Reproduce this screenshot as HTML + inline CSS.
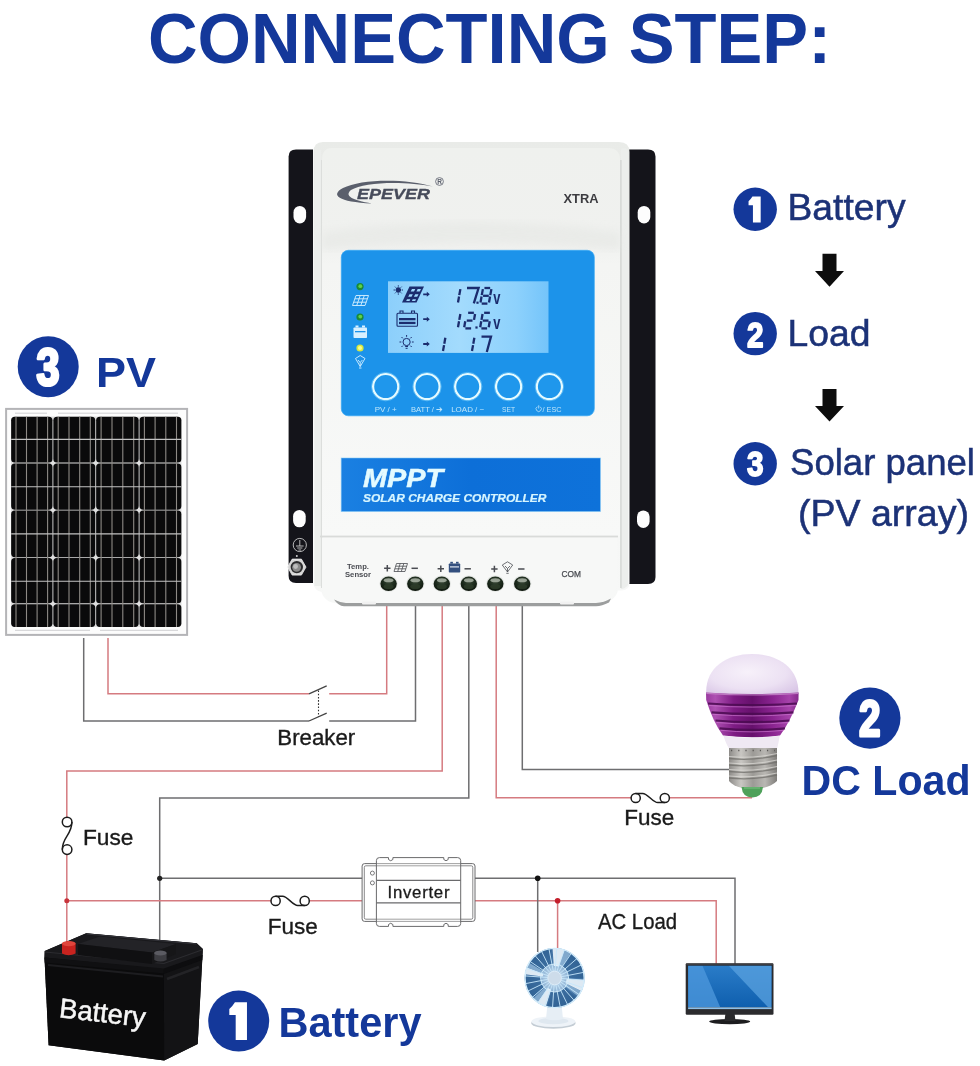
<!DOCTYPE html>
<html><head><meta charset="utf-8">
<style>
html,body{margin:0;padding:0;background:#fff;}
body{width:980px;height:1066px;overflow:hidden;font-family:"Liberation Sans",sans-serif;}
svg{display:block;will-change:transform;}
text{font-family:"Liberation Sans",sans-serif;}
</style></head><body>
<svg width="980" height="1066" viewBox="0 0 980 1066">
<defs>
<linearGradient id="bodyG" x1="0" y1="0" x2="0" y2="1"><stop offset="0" stop-color="#e9ebe8"/><stop offset="0.3" stop-color="#eff0ee"/><stop offset="0.7" stop-color="#f5f6f5"/><stop offset="1" stop-color="#f7f8f7"/></linearGradient>
<linearGradient id="faceG" x1="0" y1="0" x2="0" y2="1"><stop offset="0" stop-color="#eff1ee"/><stop offset="0.25" stop-color="#f0f1ef"/><stop offset="0.3" stop-color="#f4f5f3"/><stop offset="1" stop-color="#f8f9f8"/></linearGradient>
<linearGradient id="lcdG" x1="0" y1="0" x2="1" y2="0"><stop offset="0" stop-color="#8ccffb"/><stop offset="0.45" stop-color="#a3dbfd"/><stop offset="0.8" stop-color="#8dd1fc"/><stop offset="1" stop-color="#74c4fa"/></linearGradient>
<linearGradient id="mpptG" x1="0" y1="0" x2="1" y2="0"><stop offset="0" stop-color="#1a80e2"/><stop offset="0.5" stop-color="#0d6fd8"/><stop offset="1" stop-color="#0e72da"/></linearGradient>
<radialGradient id="termG" cx="0.5" cy="0.35" r="0.6"><stop offset="0" stop-color="#3b4a38"/><stop offset="0.6" stop-color="#1c2a1c"/><stop offset="1" stop-color="#10190f"/></radialGradient>
<filter id="b05"><feGaussianBlur stdDeviation="0.5"/></filter>
<filter id="b1"><feGaussianBlur stdDeviation="1"/></filter>
<filter id="b2"><feGaussianBlur stdDeviation="2"/></filter>
<filter id="b4"><feGaussianBlur stdDeviation="4"/></filter>
<radialGradient id="globeG" cx="0.45" cy="0.45" r="0.7"><stop offset="0" stop-color="#f7f1fa"/><stop offset="0.6" stop-color="#ece1f3"/><stop offset="1" stop-color="#d9c6e6"/></radialGradient>
<linearGradient id="purpG" x1="0" y1="0" x2="1" y2="0"><stop offset="0" stop-color="#9a3aa0"/><stop offset="0.1" stop-color="#ae50b2"/><stop offset="0.3" stop-color="#7e1c84"/><stop offset="0.5" stop-color="#66106c"/><stop offset="0.72" stop-color="#8a2490"/><stop offset="0.9" stop-color="#a642aa"/><stop offset="1" stop-color="#862a8c"/></linearGradient>
<linearGradient id="metalG" x1="0" y1="0" x2="1" y2="0"><stop offset="0" stop-color="#8d8b88"/><stop offset="0.25" stop-color="#c9c7c3"/><stop offset="0.5" stop-color="#9c9a96"/><stop offset="0.75" stop-color="#b9b7b3"/><stop offset="1" stop-color="#7f7d7a"/></linearGradient>
<radialGradient id="fanG" cx="0.5" cy="0.5" r="0.5"><stop offset="0" stop-color="#dbe8f3"/><stop offset="0.45" stop-color="#8fb4d6"/><stop offset="0.5" stop-color="#4d7fb0"/><stop offset="1" stop-color="#3c6c9e"/></radialGradient>
<clipPath id="fanClip"><circle cx="554.6" cy="978.0" r="30.0"/></clipPath>
<linearGradient id="scrG" x1="0" y1="0" x2="0" y2="1"><stop offset="0" stop-color="#2a7cc8"/><stop offset="1" stop-color="#0f5fae"/></linearGradient>
<clipPath id="scrClip"><rect x="688.100" y="965.700" width="83.500" height="41.400"/></clipPath>
</defs>
<rect width="980" height="1066" fill="#fff"/>
<g id="title">
<text x="489.500" y="63" font-size="70" font-weight="bold" fill="#14389a" text-anchor="middle" textLength="683" lengthAdjust="spacingAndGlyphs">CONNECTING STEP:</text>
</g>
<g id="wires">
<polyline points="108.0,638.0 108.0,693.8 309.0,693.8" fill="none" stroke="#d57b80" stroke-width="1.5"/>
<polyline points="329.2,693.8 386.7,693.8 386.7,603.0" fill="none" stroke="#d57b80" stroke-width="1.5"/>
<polyline points="83.7,638.0 83.7,721.0 309.0,721.0" fill="none" stroke="#6e6e70" stroke-width="1.5"/>
<polyline points="329.2,721.0 415.5,721.0 415.5,603.0" fill="none" stroke="#6e6e70" stroke-width="1.5"/>
<path d="M309 693.800 L326.700 685.900 M309 721 L326.700 713.100" stroke="#444" stroke-width="1.300" fill="none"/>
<path d="M318.500 690.500 V716.500" stroke="#333" stroke-width="1.100" stroke-dasharray="1.600 1.600" fill="none"/>
<polyline points="442.2,603.0 442.2,771.0 66.8,771.0 66.8,817.2" fill="none" stroke="#d57b80" stroke-width="1.5"/>
<polyline points="66.8,854.4 66.8,944.0" fill="none" stroke="#d57b80" stroke-width="1.5"/>
<polyline points="468.8,603.0 468.8,798.0 159.7,798.0 159.7,942.0" fill="none" stroke="#6e6e70" stroke-width="1.5"/>
<polyline points="496.2,603.0 496.2,797.8 631.1,797.8" fill="none" stroke="#d57b80" stroke-width="1.5"/>
<polyline points="669.4,797.8 752.0,797.8" fill="none" stroke="#d57b80" stroke-width="1.5"/>
<polyline points="522.3,603.0 522.3,769.4 732.0,769.4" fill="none" stroke="#6e6e70" stroke-width="1.5"/>
<polyline points="159.7,878.3 363.3,878.3" fill="none" stroke="#6e6e70" stroke-width="1.5"/>
<polyline points="66.8,900.7 271.0,900.7" fill="none" stroke="#d57b80" stroke-width="1.5"/>
<polyline points="309.3,900.7 363.3,900.7" fill="none" stroke="#d57b80" stroke-width="1.5"/>
<polyline points="474.5,878.3 735.0,878.3 735.0,966.0" fill="none" stroke="#6e6e70" stroke-width="1.5"/>
<polyline points="474.5,900.7 716.2,900.7 716.2,966.0" fill="none" stroke="#d57b80" stroke-width="1.5"/>
<polyline points="537.7,878.3 537.7,952.0" fill="none" stroke="#6e6e70" stroke-width="1.5"/>
<polyline points="557.6,900.7 557.6,950.0" fill="none" stroke="#d57b80" stroke-width="1.5"/>
<circle cx="159.700" cy="878.300" r="2.600" fill="#222"/><circle cx="537.700" cy="878.300" r="2.800" fill="#111"/>
<circle cx="66.800" cy="900.700" r="2.500" fill="#c8343c"/><circle cx="557.600" cy="900.700" r="2.800" fill="#c41f2c"/>
<g fill="none" stroke="#1c1c1c" stroke-width="1.500"><circle cx="635.7" cy="798.0" r="4.6" fill="#fff"/><circle cx="664.8" cy="798.0" r="4.6" fill="#fff"/><path d="M635.7 793.4 H642.7 C647.7 793.4 652.8 802.6 657.8 802.6 H664.8"/></g>
<g fill="none" stroke="#1c1c1c" stroke-width="1.500"><circle cx="275.6" cy="900.9" r="4.6" fill="#fff"/><circle cx="304.7" cy="900.9" r="4.6" fill="#fff"/><path d="M275.6 896.3 H282.6 C287.6 896.3 292.7 905.5 297.7 905.5 H304.7"/></g>
<g fill="none" stroke="#1c1c1c" stroke-width="1.500"><circle cx="67.1" cy="822.0" r="4.8" fill="#fff"/><circle cx="67.1" cy="849.6" r="4.8" fill="#fff"/><path d="M71.9 822.0 C71.9 835.0 62.3 836.6 62.3 849.6"/></g>
</g>
<g id="controller">
<path d="M296 149.500 H313 V583 H296 Q288.600 583 288.600 576 V156.500 Q288.600 149.500 296 149.500Z" fill="#14141a"/>
<path d="M629 149.500 H648 Q655.500 149.500 655.500 156.500 V577 Q655.500 584 648 584 H629Z" fill="#14141a"/>
<rect x="293.5" y="206.0" width="12.600" height="17.400" rx="6.300" fill="#fdfdfd"/>
<rect x="637.7" y="206.0" width="12.600" height="17.400" rx="6.300" fill="#fdfdfd"/>
<rect x="293.1" y="509.9" width="12.600" height="17.400" rx="6.300" fill="#fdfdfd"/>
<rect x="637.0" y="510.5" width="12.600" height="17.400" rx="6.300" fill="#fdfdfd"/>
<g stroke="#c8c8c8" stroke-width="0.9" fill="none"><circle cx="299.800" cy="545" r="6.600"/><path d="M299.800 540 V546 M296 546 H303.600 M297.200 548 H302.400 M298.500 550 H301.100"/></g>
<polygon points="306.0,567.1 301.4,575.1 292.2,575.1 287.6,567.1 292.2,559.1 301.4,559.1" fill="#d6d6d6" stroke="#efefef" stroke-width="0.800"/>
<circle cx="296.800" cy="567.100" r="6.200" fill="#2c2c2e"/><circle cx="296.600" cy="567.300" r="4.400" fill="#8a8a8a"/><circle cx="295.600" cy="566.500" r="2.400" fill="#bdbdbd"/>
<circle cx="296.800" cy="555.900" r="1" fill="#d0d0d0"/>
<path d="M323 142 H619 Q629.500 142 629.500 152 V583 Q629.500 590 622 590.500 H618 Q614 603.500 598 603.500 H340 Q325 603.500 321.500 592 Q313.500 590 313.500 583 V152 Q313.500 142 323 142Z" fill="url(#bodyG)"/>
<path d="M621 150 Q623 146 628 150 V585 Q625 589 621 589Z" fill="#eceeec" filter="url(#b05)"/>
<rect x="620.200" y="160" width="1.400" height="428" fill="#d4d6d4" filter="url(#b05)"/>
<path d="M314.500 150 H321 V586 H314.500Z" fill="#eceeec" filter="url(#b05)"/>
<rect x="321" y="160" width="1.200" height="428" fill="#dcdedc" filter="url(#b05)"/>
<path d="M332 148 H608 Q620 148 620 160 V536 H322 V160 Q322 148 332 148Z" fill="url(#faceG)"/>
<path d="M322 232 Q470 212 620 232 V250 Q470 236 322 250Z" fill="#e4e6e3" opacity="0.55" filter="url(#b4)"/>
<rect x="320" y="535.600" width="298" height="1.800" fill="#d9dbd9" filter="url(#b05)"/>
<path d="M322 538 H617 V585 Q612 600 596 600 H342 Q328 600 322 588Z" fill="#f7f8f7"/>
<path d="M334 599.500 Q340 602.600 346 603 H596 Q604 602.600 611 598.500 L609 602.500 Q602 606.200 596 606.200 H344 Q338 605.800 334 599.500Z" fill="#9c9e9e" filter="url(#b05)"/>
<rect x="362" y="601.600" width="14" height="3" rx="1" fill="#f1f1f1"/><rect x="560" y="601.600" width="14" height="3" rx="1" fill="#f1f1f1"/>
<g id="logo">
<path d="M433 186.500 C405 178 360 179 343 188 C330 195 338 202 372 203.500 C352 200 344 196 351 190 C364 181.500 406 181 433 186.500Z" fill="#5a5f6c"/>
<text x="357" y="199.300" font-size="15.500" font-weight="bold" font-style="italic" fill="#474c5b" stroke="#474c5b" stroke-width="0.300" textLength="73" lengthAdjust="spacingAndGlyphs">EPEVER</text>
<circle cx="439.500" cy="181.500" r="3.900" fill="none" stroke="#5a5f6c" stroke-width="0.800"/>
<text x="439.500" y="184" font-size="6.500" font-weight="bold" fill="#5a5f6c" text-anchor="middle">R</text>
</g>
<text x="563.500" y="203" font-size="12.800" font-weight="bold" fill="#3c3c40" textLength="35" lengthAdjust="spacingAndGlyphs">XTRA</text>
<rect x="341.300" y="250.300" width="253" height="165.500" rx="7" fill="#1c93ea"/>
<rect x="341.300" y="250.300" width="253" height="165.500" rx="7" fill="none" stroke="#36a8f5" stroke-width="1" opacity="0.7"/>
<rect x="388" y="281.300" width="160.500" height="71.600" fill="url(#lcdG)"/>
<circle cx="360" cy="286.600" r="3.600" fill="#1a8a38"/><circle cx="360.300" cy="286.200" r="1.900" fill="#5fd24a"/>
<circle cx="360" cy="317" r="3.600" fill="#1a8a38"/><circle cx="360.300" cy="316.600" r="1.900" fill="#5fd24a"/>
<circle cx="360" cy="348" r="3.600" fill="#d8e840"/><circle cx="360" cy="348" r="2" fill="#fbff8a"/>
<g stroke="#d8f0ff" stroke-width="0.900" fill="none"><path d="M356 295.500 H368.500 L365 305.500 H352.500Z M354.800 298.800 H367.300 M353.700 302.200 H366.200 M360.200 295.500 L356.700 305.500 M364.300 295.500 L360.800 305.500"/></g>
<g fill="#d8f0ff"><rect x="353.500" y="327.500" width="13.500" height="10.500" rx="0.800"/><rect x="355.500" y="325.500" width="3" height="2"/><rect x="362" y="325.500" width="3" height="2"/></g><rect x="355" y="331" width="10.500" height="1.300" fill="#1c93ea"/>
<g stroke="#d8f0ff" stroke-width="0.900" fill="none"><path d="M355.500 358.500 L360.200 355.500 L365 358.500 L360.200 366.500Z M358 360 L360.200 362.500 L362.400 360 M360.200 362.500 V366.500"/><path d="M359 368 H361.500"/></g>
<g stroke="#1b2c6e" stroke-width="1" fill="#1b2c6e"><circle cx="398.300" cy="290" r="2.300"/><path d="M398.300 285.300 V286.600 M398.300 293.400 V294.700 M393.600 290 H394.900 M401.700 290 H403 M395 286.700 L395.900 287.600 M400.700 292.400 L401.600 293.300 M395 293.300 L395.900 292.400 M400.700 287.600 L401.600 286.700" fill="none"/></g>
<path d="M409.500 286.500 H424 L416.500 302.500 H402Z" fill="#1b2c6e"/>
<g fill="#9fd8fd"><path d="M412 289 H415.300 L414 291.600 H410.700Z M417.700 289 H421 L419.700 291.600 H416.400Z M409.500 294.200 H412.800 L411.500 296.800 H408.200Z M415.200 294.200 H418.500 L417.200 296.800 H413.900Z M407 299.300 H410.300 L409.500 300.900 H406.200Z M412.700 299.300 H416 L415.200 300.900 H411.900Z"/></g>
<path d="M423.2 293.4 h3.600 v-1.600 l3 2.500 l-3 2.500 v-1.600 h-3.600Z" fill="#1b2c6e"/>
<path d="M423.2 318.3 h3.600 v-1.600 l3 2.500 l-3 2.500 v-1.600 h-3.600Z" fill="#1b2c6e"/>
<path d="M423.2 343.1 h3.600 v-1.600 l3 2.500 l-3 2.500 v-1.600 h-3.600Z" fill="#1b2c6e"/>
<g fill="none" stroke="#1b2c6e" stroke-width="1.100"><rect x="397" y="313.200" width="20.500" height="13" rx="1"/><path d="M400 313 V311 H403 V313 M411.500 313 V311 H414.500 V313"/></g><rect x="399" y="318" width="16.500" height="2.300" fill="#1b2c6e"/><rect x="399" y="321.800" width="16.500" height="2.300" fill="#1b2c6e"/>
<g fill="none" stroke="#1b2c6e" stroke-width="1"><circle cx="406.600" cy="342" r="3.600"/><path d="M406.600 335 V336.800 M401.500 337 L402.800 338.300 M411.700 337 L410.400 338.300 M399.500 342 H401.300 M411.900 342 H413.700 M401.500 347 L402.800 345.700 M411.700 347 L410.400 345.700 M405.200 346.500 H408 M405.600 348.300 H407.600"/></g>
<g stroke="#1b2c6e" stroke-width="2.3" stroke-linecap="butt"><line x1="460.35" y1="289.15" x2="459.30" y2="295.11"/><line x1="459.05" y1="296.49" x2="458.00" y2="302.45"/></g>
<polyline points="467.0,288.0 478.6,288.0 473.8,303.4" fill="none" stroke="#1b2c6e" stroke-width="2.3" stroke-linejoin="miter"/>
<g stroke="#1b2c6e" stroke-width="2.3" stroke-linecap="butt"><line x1="484.43" y1="288.00" x2="490.17" y2="288.00"/><line x1="491.35" y1="289.15" x2="490.30" y2="295.11"/><line x1="490.05" y1="296.49" x2="489.00" y2="302.45"/><line x1="481.68" y1="303.60" x2="487.42" y2="303.60"/><line x1="481.55" y1="296.49" x2="480.50" y2="302.45"/><line x1="482.85" y1="289.15" x2="481.80" y2="295.11"/><line x1="483.06" y1="295.80" x2="488.80" y2="295.80"/></g>
<rect x="476.400" y="301.600" width="2.200" height="2.200" fill="#1b2c6e"/>
<g stroke="#1b2c6e" stroke-width="2.3" stroke-linecap="butt"><line x1="460.35" y1="313.95" x2="459.30" y2="319.91"/><line x1="459.05" y1="321.29" x2="458.00" y2="327.25"/></g>
<g stroke="#1b2c6e" stroke-width="2.3" stroke-linecap="butt"><line x1="468.13" y1="312.80" x2="473.87" y2="312.80"/><line x1="475.05" y1="313.95" x2="474.00" y2="319.91"/><line x1="466.76" y1="320.60" x2="472.50" y2="320.60"/><line x1="465.25" y1="321.29" x2="464.20" y2="327.25"/><line x1="465.38" y1="328.40" x2="471.12" y2="328.40"/></g>
<g stroke="#1b2c6e" stroke-width="2.3" stroke-linecap="butt"><line x1="484.13" y1="312.80" x2="489.87" y2="312.80"/><line x1="482.55" y1="313.95" x2="481.50" y2="319.91"/><line x1="482.76" y1="320.60" x2="488.50" y2="320.60"/><line x1="481.25" y1="321.29" x2="480.20" y2="327.25"/><line x1="489.75" y1="321.29" x2="488.70" y2="327.25"/><line x1="481.38" y1="328.40" x2="487.12" y2="328.40"/></g>
<rect x="475.400" y="326.400" width="2.200" height="2.200" fill="#1b2c6e"/>
<g stroke="#1b2c6e" stroke-width="2.3" stroke-linecap="butt"><line x1="445.35" y1="337.75" x2="444.30" y2="343.71"/><line x1="444.05" y1="345.09" x2="443.00" y2="351.05"/></g>
<g stroke="#1b2c6e" stroke-width="2.3" stroke-linecap="butt"><line x1="474.35" y1="337.75" x2="473.30" y2="343.71"/><line x1="473.05" y1="345.09" x2="472.00" y2="351.05"/></g>
<polyline points="481.5,336.6 491.0,336.6 486.8,352.0" fill="none" stroke="#1b2c6e" stroke-width="2.3" stroke-linejoin="miter"/>
<text x="493.300" y="303.800" font-size="17.500" font-weight="bold" fill="#1b2c6e" textLength="7.200" lengthAdjust="spacingAndGlyphs">v</text>
<text x="493.300" y="328.600" font-size="17.500" font-weight="bold" fill="#1b2c6e" textLength="7.200" lengthAdjust="spacingAndGlyphs">v</text>
<circle cx="385.7" cy="386.600" r="12.600" fill="#1f97ec" stroke="#e6fbff" stroke-width="2.200"/>
<circle cx="385.7" cy="386.600" r="14.200" fill="none" stroke="#7fd0fb" stroke-width="1" opacity="0.6"/>
<circle cx="427.0" cy="386.600" r="12.600" fill="#1f97ec" stroke="#e6fbff" stroke-width="2.200"/>
<circle cx="427.0" cy="386.600" r="14.200" fill="none" stroke="#7fd0fb" stroke-width="1" opacity="0.6"/>
<circle cx="467.7" cy="386.600" r="12.600" fill="#1f97ec" stroke="#e6fbff" stroke-width="2.200"/>
<circle cx="467.7" cy="386.600" r="14.200" fill="none" stroke="#7fd0fb" stroke-width="1" opacity="0.6"/>
<circle cx="508.6" cy="386.600" r="12.600" fill="#1f97ec" stroke="#e6fbff" stroke-width="2.200"/>
<circle cx="508.6" cy="386.600" r="14.200" fill="none" stroke="#7fd0fb" stroke-width="1" opacity="0.6"/>
<circle cx="549.4" cy="386.600" r="12.600" fill="#1f97ec" stroke="#e6fbff" stroke-width="2.200"/>
<circle cx="549.4" cy="386.600" r="14.200" fill="none" stroke="#7fd0fb" stroke-width="1" opacity="0.6"/>
<text x="385.7" y="411.500" font-size="7.600" fill="#bfe6fb" text-anchor="middle" textLength="22" lengthAdjust="spacingAndGlyphs">PV / +</text>
<text x="427.0" y="411.500" font-size="7.600" fill="#bfe6fb" text-anchor="middle" textLength="32" lengthAdjust="spacingAndGlyphs">BATT / ➔</text>
<text x="467.7" y="411.500" font-size="7.600" fill="#bfe6fb" text-anchor="middle" textLength="33" lengthAdjust="spacingAndGlyphs">LOAD / −</text>
<text x="508.6" y="411.500" font-size="7.600" fill="#bfe6fb" text-anchor="middle" textLength="13" lengthAdjust="spacingAndGlyphs">SET</text>
<text x="552.0" y="411.500" font-size="7.600" fill="#bfe6fb" text-anchor="middle" textLength="19" lengthAdjust="spacingAndGlyphs">/ ESC</text>
<g stroke="#bfe6fb" stroke-width="0.800" fill="none"><path d="M537.300 406.700 a2.600 2.600 0 1 0 2.800 0 M538.700 405.300 V408.500"/></g>
<rect x="341.200" y="458" width="259.200" height="53.500" fill="url(#mpptG)"/>
<rect x="341.200" y="458" width="259.200" height="53.500" fill="none" stroke="#7cc4f6" stroke-width="0.800" opacity="0.7"/>
<text x="363" y="487.400" font-size="26.500" font-weight="bold" font-style="italic" fill="#e4fbff" stroke="#e4fbff" stroke-width="0.500" textLength="80" lengthAdjust="spacingAndGlyphs">MPPT</text>
<text x="363" y="502.300" font-size="11.800" font-weight="bold" font-style="italic" fill="#d6f5ff" stroke="#d6f5ff" stroke-width="0.200" textLength="183.500" lengthAdjust="spacingAndGlyphs">SOLAR CHARGE CONTROLLER</text>
<text x="358" y="568.600" font-size="7" font-weight="bold" fill="#4a4c52" text-anchor="middle" textLength="22" lengthAdjust="spacingAndGlyphs">Temp.</text>
<text x="358" y="576.600" font-size="7" font-weight="bold" fill="#4a4c52" text-anchor="middle" textLength="26" lengthAdjust="spacingAndGlyphs">Sensor</text>
<text x="561.500" y="577.300" font-size="8.600" fill="#4a4c52" stroke="#4a4c52" stroke-width="0.250" textLength="19.500" lengthAdjust="spacingAndGlyphs">COM</text>
<path d="M384.1 568.3 h6.400 M387.3 565.1 v6.400" stroke="#4a4c52" stroke-width="1.500"/>
<path d="M411.5 568.3 h6.400" stroke="#4a4c52" stroke-width="1.500"/>
<path d="M437.6 568.8 h6.400 M440.8 565.6 v6.400" stroke="#4a4c52" stroke-width="1.500"/>
<path d="M464.5 568.8 h6.400" stroke="#4a4c52" stroke-width="1.500"/>
<path d="M491.2 569.0 h6.400 M494.4 565.8 v6.400" stroke="#4a4c52" stroke-width="1.500"/>
<path d="M518.1 569.0 h6.400" stroke="#4a4c52" stroke-width="1.500"/>
<g stroke="#4a4c52" stroke-width="0.800" fill="none"><path d="M396.500 563.500 H407.500 L405 571.500 H394Z M395.700 566.200 H406.700 M394.900 568.800 H405.900 M400.200 563.500 L397.700 571.500 M403.800 563.500 L401.300 571.500"/></g>
<g fill="#34507f"><rect x="448.800" y="563.500" width="11.400" height="9" rx="0.800"/><rect x="450.300" y="561.800" width="2.600" height="1.800"/><rect x="456" y="561.800" width="2.600" height="1.800"/></g><rect x="450" y="566.300" width="9" height="1.200" fill="#dfe6f0"/>
<g stroke="#4a4c52" stroke-width="0.800" fill="none"><path d="M502.300 565 L507.500 561.800 L512.700 565 L507.500 572Z M505 566 L507.500 568.500 L510 566 M507.500 568.500 V572"/><path d="M506.300 573.300 H508.700"/></g>
<ellipse cx="388.6" cy="583.600" rx="9.200" ry="8.200" fill="#e2e5e2"/>
<ellipse cx="388.6" cy="583.800" rx="8.200" ry="7.300" fill="url(#termG)"/>
<ellipse cx="388.6" cy="580.200" rx="4.800" ry="2" fill="#aab3a6" opacity="0.85" filter="url(#b05)"/>
<ellipse cx="388.6" cy="586.500" rx="5" ry="2.600" fill="#2d3d2b" opacity="0.8" filter="url(#b05)"/>
<ellipse cx="415.3" cy="583.600" rx="9.200" ry="8.200" fill="#e2e5e2"/>
<ellipse cx="415.3" cy="583.800" rx="8.200" ry="7.300" fill="url(#termG)"/>
<ellipse cx="415.3" cy="580.200" rx="4.800" ry="2" fill="#aab3a6" opacity="0.85" filter="url(#b05)"/>
<ellipse cx="415.3" cy="586.500" rx="5" ry="2.600" fill="#2d3d2b" opacity="0.8" filter="url(#b05)"/>
<ellipse cx="441.8" cy="583.600" rx="9.200" ry="8.200" fill="#e2e5e2"/>
<ellipse cx="441.8" cy="583.800" rx="8.200" ry="7.300" fill="url(#termG)"/>
<ellipse cx="441.8" cy="580.200" rx="4.800" ry="2" fill="#aab3a6" opacity="0.85" filter="url(#b05)"/>
<ellipse cx="441.8" cy="586.500" rx="5" ry="2.600" fill="#2d3d2b" opacity="0.8" filter="url(#b05)"/>
<ellipse cx="468.8" cy="583.600" rx="9.200" ry="8.200" fill="#e2e5e2"/>
<ellipse cx="468.8" cy="583.800" rx="8.200" ry="7.300" fill="url(#termG)"/>
<ellipse cx="468.8" cy="580.200" rx="4.800" ry="2" fill="#aab3a6" opacity="0.85" filter="url(#b05)"/>
<ellipse cx="468.8" cy="586.500" rx="5" ry="2.600" fill="#2d3d2b" opacity="0.8" filter="url(#b05)"/>
<ellipse cx="495.3" cy="583.600" rx="9.200" ry="8.200" fill="#e2e5e2"/>
<ellipse cx="495.3" cy="583.800" rx="8.200" ry="7.300" fill="url(#termG)"/>
<ellipse cx="495.3" cy="580.200" rx="4.800" ry="2" fill="#aab3a6" opacity="0.85" filter="url(#b05)"/>
<ellipse cx="495.3" cy="586.500" rx="5" ry="2.600" fill="#2d3d2b" opacity="0.8" filter="url(#b05)"/>
<ellipse cx="522.2" cy="583.600" rx="9.200" ry="8.200" fill="#e2e5e2"/>
<ellipse cx="522.2" cy="583.800" rx="8.200" ry="7.300" fill="url(#termG)"/>
<ellipse cx="522.2" cy="580.200" rx="4.800" ry="2" fill="#aab3a6" opacity="0.85" filter="url(#b05)"/>
<ellipse cx="522.2" cy="586.500" rx="5" ry="2.600" fill="#2d3d2b" opacity="0.8" filter="url(#b05)"/>
</g>
<g id="pv">
<circle cx="48.200" cy="366.700" r="30.500" fill="#14389a"/>
<text x="48" y="384.600" font-size="51.500" font-weight="bold" fill="#fff" stroke="#fff" stroke-width="3.200" stroke-linejoin="round" text-anchor="middle" textLength="23" lengthAdjust="spacingAndGlyphs">3</text>
<text x="96" y="387.300" font-size="43" font-weight="bold" fill="#14389a" textLength="60" lengthAdjust="spacingAndGlyphs">PV</text>
<rect x="6.100" y="408.900" width="181" height="226" fill="#fcfcfc" stroke="#b4b4b7" stroke-width="2"/>
<rect x="11.0" y="416.6" width="170.5" height="210.5" rx="4" fill="#dedede"/>
<path d="M15 413.200 H47 M58 413.200 H178 M15 630.300 H90 M100 630.300 H178" stroke="#c4c4c6" stroke-width="0.800" fill="none"/>
<rect x="11.15" y="416.75" width="41.30" height="45.80" rx="3.600" fill="#0a0a0b"/>
<rect x="11.15" y="463.45" width="41.30" height="46.20" rx="3.600" fill="#0a0a0b"/>
<rect x="11.15" y="510.55" width="41.30" height="46.60" rx="3.600" fill="#0a0a0b"/>
<rect x="11.15" y="558.05" width="41.30" height="45.30" rx="3.600" fill="#0a0a0b"/>
<rect x="11.15" y="604.25" width="41.30" height="22.70" rx="3.600" fill="#0a0a0b"/>
<rect x="53.35" y="416.75" width="41.90" height="45.80" rx="3.600" fill="#0a0a0b"/>
<rect x="53.35" y="463.45" width="41.90" height="46.20" rx="3.600" fill="#0a0a0b"/>
<rect x="53.35" y="510.55" width="41.90" height="46.60" rx="3.600" fill="#0a0a0b"/>
<rect x="53.35" y="558.05" width="41.90" height="45.30" rx="3.600" fill="#0a0a0b"/>
<rect x="53.35" y="604.25" width="41.90" height="22.70" rx="3.600" fill="#0a0a0b"/>
<rect x="96.15" y="416.75" width="42.50" height="45.80" rx="3.600" fill="#0a0a0b"/>
<rect x="96.15" y="463.45" width="42.50" height="46.20" rx="3.600" fill="#0a0a0b"/>
<rect x="96.15" y="510.55" width="42.50" height="46.60" rx="3.600" fill="#0a0a0b"/>
<rect x="96.15" y="558.05" width="42.50" height="45.30" rx="3.600" fill="#0a0a0b"/>
<rect x="96.15" y="604.25" width="42.50" height="22.70" rx="3.600" fill="#0a0a0b"/>
<rect x="139.55" y="416.75" width="41.80" height="45.80" rx="3.600" fill="#0a0a0b"/>
<rect x="139.55" y="463.45" width="41.80" height="46.20" rx="3.600" fill="#0a0a0b"/>
<rect x="139.55" y="510.55" width="41.80" height="46.60" rx="3.600" fill="#0a0a0b"/>
<rect x="139.55" y="558.05" width="41.80" height="45.30" rx="3.600" fill="#0a0a0b"/>
<rect x="139.55" y="604.25" width="41.80" height="22.70" rx="3.600" fill="#0a0a0b"/>
<path d="M16.0 416.8 V626.9 M26.5 416.8 V626.9 M37.1 416.8 V626.9 M47.6 416.8 V626.9 M58.2 416.8 V626.9 M69.0 416.8 V626.9 M79.7 416.8 V626.9 M90.3 416.8 V626.9 M101.1 416.8 V626.9 M112.0 416.8 V626.9 M122.8 416.8 V626.9 M133.7 416.8 V626.9 M144.4 416.8 V626.9 M155.1 416.8 V626.9 M165.8 416.8 V626.9 M176.5 416.8 V626.9" stroke="#8e8a86" stroke-width="1.100" fill="none"/>
<path d="M11.2 439.4 H181.3 M11.2 486.7 H181.3 M11.2 533.9 H181.3 M11.2 581.2 H181.3" stroke="#c2c2c2" stroke-width="1.100" fill="none"/>
</g>
<g id="legend">
<circle cx="755.2" cy="209.3" r="21.7" fill="#14389a"/>
<path d="M752.42 196.60 H760.68 V222.40 H752.94 V205.37 H748.55 V201.24 Q750.36 199.95 752.42 196.60 Z" fill="#fff"/>
<circle cx="755.2" cy="333.6" r="21.7" fill="#14389a"/>
<text x="755.2" y="346.8" font-size="35.0" font-weight="bold" fill="#fff" stroke="#fff" stroke-width="1.8" stroke-linejoin="round" text-anchor="middle" textLength="16.5" lengthAdjust="spacingAndGlyphs">2</text>
<circle cx="755.2" cy="463.7" r="21.7" fill="#14389a"/>
<text x="755.2" y="475.9" font-size="35.0" font-weight="bold" fill="#fff" stroke="#fff" stroke-width="1.8" stroke-linejoin="round" text-anchor="middle" textLength="16.5" lengthAdjust="spacingAndGlyphs">3</text>
<text x="787.500" y="220.200" font-size="36" fill="#1c3277" stroke="#1c3277" stroke-width="0.500" textLength="118" lengthAdjust="spacingAndGlyphs">Battery</text>
<text x="787.500" y="345.700" font-size="36" fill="#1c3277" stroke="#1c3277" stroke-width="0.500" textLength="83" lengthAdjust="spacingAndGlyphs">Load</text>
<text x="790" y="475.200" font-size="36" fill="#1c3277" stroke="#1c3277" stroke-width="0.500" textLength="185" lengthAdjust="spacingAndGlyphs">Solar panel</text>
<text x="798" y="526" font-size="36" fill="#1c3277" stroke="#1c3277" stroke-width="0.500" textLength="171" lengthAdjust="spacingAndGlyphs">(PV array)</text>
<path d="M822.5 253.8 H836.5 V271.0 H844.0 L829.5 286.8 L815.0 271.0 H822.5Z" fill="#0d0d0d"/>
<path d="M822.5 388.9 H836.5 V405.9 H844.0 L829.5 421.5 L815.0 405.9 H822.5Z" fill="#0d0d0d"/>
</g>
<g id="bulb">
<path d="M706.200 694 C705 668 726 654 752 654 C778 654 799.500 668 798.400 694Z" fill="url(#globeG)"/>
<path d="M706 692.500 Q752 695.500 798.600 692.500 L798.500 700 Q790 722 780 735.600 Q752 739 723 735.600 Q713 722 706.200 700Z" fill="url(#purpG)"/>
<path d="M708.0 703.5 Q752 706.7 797.0 703.5" stroke="#4a0a50" stroke-width="2.200" fill="none" opacity="0.85"/>
<path d="M709.0 705.5 Q752 708.7 796.0 705.5" stroke="#cf7ad2" stroke-width="0.900" fill="none" opacity="0.7"/>
<path d="M711.5 712.3 Q752 715.5 793.5 712.3" stroke="#4a0a50" stroke-width="2.200" fill="none" opacity="0.85"/>
<path d="M712.5 714.3 Q752 717.5 792.5 714.3" stroke="#cf7ad2" stroke-width="0.900" fill="none" opacity="0.7"/>
<path d="M715.5 720.5 Q752 723.7 789.5 720.5" stroke="#4a0a50" stroke-width="2.200" fill="none" opacity="0.85"/>
<path d="M716.5 722.5 Q752 725.7 788.5 722.5" stroke="#cf7ad2" stroke-width="0.900" fill="none" opacity="0.7"/>
<path d="M719.5 728.3 Q752 731.5 785.0 728.3" stroke="#4a0a50" stroke-width="2.200" fill="none" opacity="0.85"/>
<path d="M720.5 730.3 Q752 733.5 784.0 730.3" stroke="#cf7ad2" stroke-width="0.900" fill="none" opacity="0.7"/>
<path d="M706.300 693.300 Q752 696.500 798.500 693.300" stroke="#c78aca" stroke-width="1.200" fill="none" opacity="0.8"/>
<path d="M723.500 735.800 Q752 739.500 779.600 735.800 Q778.500 744 777 748.500 H729 Q726 744 723.500 735.800Z" fill="#efe9f3"/>
<path d="M729 748 H777 V781 Q772 786 763 788 H742 Q733 786 729 781Z" fill="url(#metalG)"/>
<path d="M729 758.5 Q753 761.0 777 755.5" stroke="#6f6d6a" stroke-width="1.300" fill="none" opacity="0.75"/>
<path d="M729 756.5 Q753 759.0 777 753.5" stroke="#deddd9" stroke-width="1" fill="none" opacity="0.7"/>
<path d="M729 765.0 Q753 767.5 777 762.0" stroke="#6f6d6a" stroke-width="1.300" fill="none" opacity="0.75"/>
<path d="M729 763.0 Q753 765.5 777 760.0" stroke="#deddd9" stroke-width="1" fill="none" opacity="0.7"/>
<path d="M729 771.5 Q753 774.0 777 768.5" stroke="#6f6d6a" stroke-width="1.300" fill="none" opacity="0.75"/>
<path d="M729 769.5 Q753 772.0 777 766.5" stroke="#deddd9" stroke-width="1" fill="none" opacity="0.7"/>
<path d="M729 778.0 Q753 780.5 777 775.0" stroke="#6f6d6a" stroke-width="1.300" fill="none" opacity="0.75"/>
<path d="M729 776.0 Q753 778.5 777 773.0" stroke="#deddd9" stroke-width="1" fill="none" opacity="0.7"/>
<path d="M731 750.500 H775" stroke="#5a5856" stroke-width="1.400" stroke-dasharray="1.200 6" fill="none"/>
<path d="M741.500 787 H763 Q762 797.500 752.300 797.500 Q742.500 797.500 741.500 787Z" fill="#4fa15a"/>
<path d="M744 788 H760" stroke="#8fd096" stroke-width="1" opacity="0.7"/>
</g>
<g id="dcload">
<circle cx="869.9" cy="718.1" r="30.6" fill="#14389a"/>
<text x="869.7" y="736.2" font-size="50.5" font-weight="bold" fill="#fff" stroke="#fff" stroke-width="3.0" stroke-linejoin="round" text-anchor="middle" textLength="21.5" lengthAdjust="spacingAndGlyphs">2</text>
<text x="801.500" y="795.200" font-size="43" font-weight="bold" fill="#14389a" textLength="169" lengthAdjust="spacingAndGlyphs">DC Load</text>
<circle cx="238.7" cy="1021.1" r="30.5" fill="#14389a"/>
<path d="M234.94 1002.30 H246.97 V1039.90 H235.69 V1015.08 H229.30 V1009.07 Q231.93 1007.19 234.94 1002.30 Z" fill="#fff"/>
<text x="278.500" y="1037.300" font-size="42" font-weight="bold" fill="#14389a" textLength="143" lengthAdjust="spacingAndGlyphs">Battery</text>
</g>
<g id="battery">
<path d="M44.500 957.500 L44.700 951 L86.200 933.200 L196.700 943.300 L202.800 949 L202.500 955.500 L197.700 1044 L164.200 1060.600 L48.600 1045.200Z" fill="#0e0e10"/>
<path d="M44.500 957.500 L163.800 968.500 L164.200 1060.600 L48.600 1045.200Z" fill="#0b0b0c"/>
<path d="M163.800 968.500 L202.500 954.900 L197.700 1044 L164.200 1060.600Z" fill="#131315"/>
<path d="M44.500 957.500 L44.700 951 L86.200 933.200 L196.700 943.300 L202.800 949 L202.500 955.500 L163.800 969.500Z" fill="#19191c"/>
<path d="M45 952 L163.800 963.500 L202.500 949.800" stroke="#2c2c30" stroke-width="1.200" fill="none"/>
<path d="M86.500 934 L196.500 944" stroke="#34343a" stroke-width="1" fill="none"/>
<path d="M78 944 L100 936.500 L176 944 L152 952.500Z" fill="#232327"/>
<path d="M78 944 L152 952.500 L152 964 L78 955Z" fill="#101012"/>
<path d="M152 952.500 L176 944 L176 954 L152 964Z" fill="#161618"/>
<path d="M44.500 957.500 L163.800 968.500 L163.800 973.500 L44.700 962.500Z" fill="#101012"/>
<path d="M48 965 L163 976.500" stroke="#1d1d20" stroke-width="2" fill="none"/>
<path d="M163.800 968.500 L202.500 954.900 L202.300 960 L163.800 974Z" fill="#0d0d0f"/>
<path d="M167 979 L199 967" stroke="#232326" stroke-width="2.500" fill="none"/>
<path d="M62 943.500 Q68.500 939.500 75.600 943.500 V953.500 Q68.500 957 62 953.500Z" fill="#c8231f"/>
<ellipse cx="68.800" cy="943.600" rx="6.800" ry="2.600" fill="#e0453c"/>
<path d="M154.300 953 Q160.500 949.500 166.600 953 V960 Q160.500 963 154.300 960Z" fill="#3d3d42"/>
<ellipse cx="160.400" cy="953" rx="6.200" ry="2.400" fill="#5b5b62"/>
<text transform="translate(58.600,1017.300) rotate(6.400)" font-size="27.600" fill="#f6f6f6" stroke="#f6f6f6" stroke-width="0.500" textLength="86.500" lengthAdjust="spacingAndGlyphs">Battery</text>
</g>
<g id="inverter">
<rect x="362.100" y="863.600" width="112.900" height="57.800" rx="2.500" fill="#fff" stroke="#6a6a6c" stroke-width="1"/>
<rect x="364.300" y="865.800" width="108.500" height="53.400" rx="1.500" fill="none" stroke="#6a6a6c" stroke-width="0.800"/>
<path d="M379.400 857.600 H388.500 V859.500 Q390.700 862 392.900 859.500 V857.600 H443.800 V859.500 Q446 862 448.200 859.500 V857.600 H457.700 Q460.700 857.600 460.700 860.600 V923.400 Q460.700 926.400 457.700 926.400 H448.200 V924.500 Q446 922 443.800 924.500 V926.400 H392.900 V924.500 Q390.700 922 388.500 924.500 V926.400 H379.400 Q376.400 926.400 376.400 923.400 V860.600 Q376.400 857.600 379.400 857.600Z" fill="#fff" fill-opacity="0.85" stroke="#6a6a6c" stroke-width="1"/>
<path d="M376.400 880.400 H460.700 M376.400 902.900 H460.700" stroke="#6a6a6c" stroke-width="1.100"/>
<path d="M376.400 863.600 H460.700 M376.400 865.800 H460.700 M376.400 919.200 H460.700 M376.400 921.400 H460.700" stroke="#6a6a6c" stroke-width="0.700" opacity="0.8"/>
<circle cx="372.400" cy="873.100" r="2" fill="#fff" stroke="#6a6a6c" stroke-width="0.900"/><circle cx="372.400" cy="882.900" r="2" fill="#fff" stroke="#6a6a6c" stroke-width="0.900"/>
<text x="387.500" y="897.800" font-size="16.800" fill="#1a1a1a" stroke="#1a1a1a" stroke-width="0.300" textLength="62" lengthAdjust="spacing">Inverter</text>
</g>
<g id="fan">
<ellipse cx="553.400" cy="1023" rx="22.200" ry="5.800" fill="#c3ccd4"/>
<ellipse cx="553.400" cy="1021.600" rx="22" ry="5.400" fill="#eef3f8"/>
<ellipse cx="553.400" cy="1021" rx="15" ry="3.200" fill="#dfe8f0"/>
<path d="M547.500 1004 H561.500 L563 1019 Q554.500 1021.500 546 1019Z" fill="#e6eef5"/>
<circle cx="554.6" cy="978.0" r="30.0" fill="url(#fanG)"/>
<g clip-path="url(#fanClip)">
<path d="M553.8 966.0 L552.5 948.1 A30.0 30.0 0 0 1 564.9 949.8 L558.7 966.7 A12.0 12.0 0 0 0 553.8 966.0 Z" fill="#eaf3fa" opacity="0.92"/>
<path d="M566.6 978.8 L584.5 980.1 A30.0 30.0 0 0 1 581.6 991.2 L565.4 983.3 A12.0 12.0 0 0 0 566.6 978.8 Z" fill="#eaf3fa" opacity="0.92"/>
<path d="M551.1 989.5 L545.8 1006.7 A30.0 30.0 0 0 1 537.4 1002.6 L547.7 987.8 A12.0 12.0 0 0 0 551.1 989.5 Z" fill="#eaf3fa" opacity="0.92"/>
<path d="M542.7 976.5 L524.8 974.3 A30.0 30.0 0 0 1 526.6 967.2 L543.4 973.7 A12.0 12.0 0 0 0 542.7 976.5 Z" fill="#eaf3fa" opacity="0.92"/>
<path d="M558.7 966.7 L564.9 949.8 A30.0 30.0 0 0 1 570.9 952.8 L561.1 967.9 A12.0 12.0 0 0 0 558.7 966.7 Z" fill="#9cc0de" opacity="0.70"/>
<path d="M565.4 983.3 L581.6 991.2 A30.0 30.0 0 0 1 578.2 996.5 L564.1 985.4 A12.0 12.0 0 0 0 565.4 983.3 Z" fill="#9cc0de" opacity="0.70"/>
<path d="M547.7 987.8 L537.4 1002.6 A30.0 30.0 0 0 1 533.0 998.8 L546.0 986.3 A12.0 12.0 0 0 0 547.7 987.8 Z" fill="#9cc0de" opacity="0.70"/>
<path d="M543.4 973.7 L526.6 967.2 A30.0 30.0 0 0 1 528.9 962.5 L544.3 971.8 A12.0 12.0 0 0 0 543.4 973.7 Z" fill="#9cc0de" opacity="0.70"/>
<path d="M542.6 970.8 L528.9 962.5 A30.0 30.0 0 0 1 550.4 948.3 L552.7 964.1 A14.0 14.0 0 0 0 542.6 970.8 Z" fill="#275a8c" opacity="0.50"/>
<path d="M562.8 966.7 L572.2 953.7 A30.0 30.0 0 0 1 584.6 978.0 L568.6 978.0 A14.0 14.0 0 0 0 562.8 966.7 Z" fill="#275a8c" opacity="0.50"/>
<path d="M565.0 987.4 L576.9 998.1 A30.0 30.0 0 0 1 547.3 1007.1 L551.2 991.6 A14.0 14.0 0 0 0 565.0 987.4 Z" fill="#275a8c" opacity="0.50"/>
<path d="M543.9 987.0 L531.6 997.3 A30.0 30.0 0 0 1 524.7 975.9 L540.6 977.0 A14.0 14.0 0 0 0 543.9 987.0 Z" fill="#275a8c" opacity="0.50"/>
</g>
<path d="M561.6 978.5 L584.5 980.1 M561.2 980.3 L583.0 987.8 M560.4 981.9 L579.5 994.8 M559.2 983.3 L574.3 1000.6 M557.7 984.3 L567.8 1005.0 M555.9 984.9 L560.3 1007.4 M554.1 985.0 L552.5 1007.9 M552.3 984.6 L544.8 1006.4 M550.7 983.8 L537.8 1002.9 M549.3 982.6 L532.0 997.7 M548.3 981.1 L527.6 991.2 M547.7 979.3 L525.2 983.7 M547.6 977.5 L524.7 975.9 M548.0 975.7 L526.2 968.2 M548.8 974.1 L529.7 961.2 M550.0 972.7 L534.9 955.4 M551.5 971.7 L541.4 951.0 M553.3 971.1 L548.9 948.6 M555.1 971.0 L556.7 948.1 M556.9 971.4 L564.4 949.6 M558.5 972.2 L571.4 953.1 M559.9 973.4 L577.2 958.3 M560.9 974.9 L581.6 964.8 M561.5 976.7 L584.0 972.3" stroke="#c6e6fa" stroke-width="0.900" fill="none"/>
<circle cx="554.6" cy="978.0" r="29.6" fill="none" stroke="#d3ecfb" stroke-width="1.400"/>
<circle cx="554.6" cy="978.0" r="14" fill="none" stroke="#d3ecfb" stroke-width="0.900"/>
<circle cx="554.6" cy="978.0" r="6.800" fill="#cddcea" stroke="#e3f1fb" stroke-width="0.800"/>
</g>
<g id="monitor">
<ellipse cx="729.700" cy="1021.600" rx="20.500" ry="2.600" fill="#1d1d1f"/>
<path d="M725.500 1013 H734.500 L735.500 1021 H724.500Z" fill="#2a2a2c"/>
<rect x="685.700" y="963.300" width="87.800" height="51.400" rx="1.200" fill="#2b2b2e"/>
<rect x="688.100" y="965.700" width="83.500" height="41.400" fill="url(#scrG)"/>
<g clip-path="url(#scrClip)"><path d="M688.100 965.700 H702.500 L720.200 1007.100 H688.100Z" fill="#4f9add" opacity="0.75"/><path d="M728.800 965.700 H771.600 V1007.100 H768Z" fill="#5aa2df" opacity="0.75"/></g>
<rect x="688.100" y="1007.300" width="83.500" height="1.800" fill="#8fc0e8"/>
<rect x="686.200" y="963.600" width="86.800" height="1" fill="#4a4a4e"/>
</g>
<g id="labels">
<text x="277.300" y="745.400" font-size="21.800" fill="#1a1a1a" stroke="#1a1a1a" stroke-width="0.350" textLength="78" lengthAdjust="spacingAndGlyphs">Breaker</text>
<text x="83" y="845" font-size="21.800" fill="#1a1a1a" stroke="#1a1a1a" stroke-width="0.350" textLength="50.500" lengthAdjust="spacingAndGlyphs">Fuse</text>
<text x="624.300" y="824.600" font-size="21.800" fill="#1a1a1a" stroke="#1a1a1a" stroke-width="0.350" textLength="50" lengthAdjust="spacingAndGlyphs">Fuse</text>
<text x="267.800" y="934.400" font-size="21.800" fill="#1a1a1a" stroke="#1a1a1a" stroke-width="0.350" textLength="50" lengthAdjust="spacingAndGlyphs">Fuse</text>
<text x="598" y="929.400" font-size="21.800" fill="#1a1a1a" stroke="#1a1a1a" stroke-width="0.350" textLength="79" lengthAdjust="spacingAndGlyphs">AC Load</text>
</g>
</svg>
</body></html>
